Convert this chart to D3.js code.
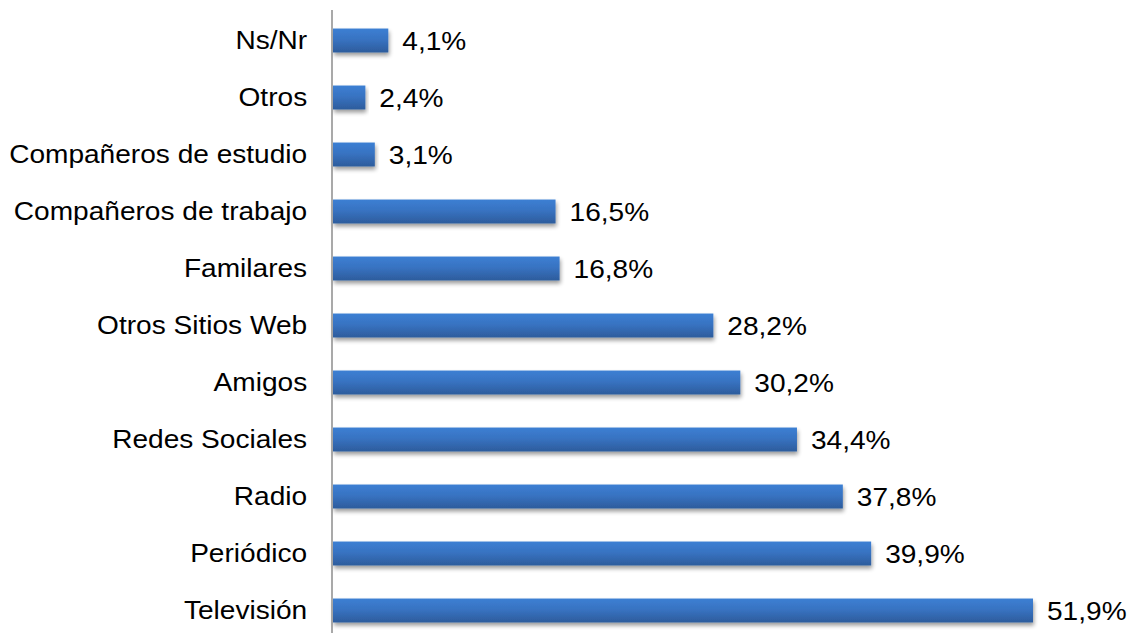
<!DOCTYPE html>
<html>
<head>
<meta charset="utf-8">
<script src="https://cdn.jsdelivr.net/npm/d3@7"></script>
<style>
  html, body { margin: 0; padding: 0; background: #ffffff; }
  svg { display: block; }
</style>
</head>
<body>
<svg id="chart" width="1130" height="633"></svg>
<script>
// Categories from top to bottom and their share (%)
const categories = [
  "Ns/Nr", "Otros", "Compañeros de estudio", "Compañeros de trabajo",
  "Familares", "Otros Sitios Web", "Amigos", "Redes Sociales",
  "Radio", "Periódico", "Televisión"
];
const values = [4.1, 2.4, 3.1, 16.5, 16.8, 28.2, 30.2, 34.4, 37.8, 39.9, 51.9];
const valueLabels = ["4,1%", "2,4%", "3,1%", "16,5%", "16,8%", "28,2%", "30,2%", "34,4%", "37,8%", "39,9%", "51,9%"];

const data = categories.map((c, i) => ({ cat: c, val: values[i], label: valueLabels[i] }));

const FONT = "Liberation Sans, Arial, sans-serif";
const FONT_SIZE = 26;
const STRETCH = 1.08; // slightly wide lettering

const svg = d3.select("#chart");
const x0 = 333;
const x = d3.scaleLinear().domain([0, 51.9]).range([x0, 1033]);
const y = d3.scaleBand().domain(categories).range([12, 639]).paddingInner(0.58).paddingOuter(0.29);

const defs = svg.append("defs");
const grad = defs.append("linearGradient")
  .attr("id", "barGrad").attr("x1", 0).attr("y1", 0).attr("x2", 0).attr("y2", 1);
grad.append("stop").attr("offset", "0%").attr("stop-color", "#3c7fd3");
grad.append("stop").attr("offset", "45%").attr("stop-color", "#3873c2");
grad.append("stop").attr("offset", "100%").attr("stop-color", "#2d5c9c");

const shadow = defs.append("filter").attr("id", "barShadow")
  .attr("x", "-5%").attr("y", "-30%").attr("width", "115%").attr("height", "180%");
shadow.append("feGaussianBlur").attr("in", "SourceAlpha").attr("stdDeviation", 2.2).attr("result", "blur");
shadow.append("feOffset").attr("in", "blur").attr("dx", 1).attr("dy", 3).attr("result", "off");
shadow.append("feComponentTransfer").attr("in", "off").attr("result", "shade")
  .append("feFuncA").attr("type", "linear").attr("slope", 0.4);
const merge = shadow.append("feMerge");
merge.append("feMergeNode").attr("in", "shade");
merge.append("feMergeNode").attr("in", "SourceGraphic");

// Bars
svg.append("g").selectAll("rect").data(data).join("rect")
  .attr("x", x(0))
  .attr("y", d => y(d.cat))
  .attr("width", d => x(d.val) - x(0))
  .attr("height", y.bandwidth())
  .attr("fill", "url(#barGrad)")
  .attr("filter", "url(#barShadow)");

// Category axis
const axis = svg.append("g").attr("transform", `translate(${x0 - 1},0)`)
  .call(d3.axisLeft(y).tickSize(0).tickPadding(23));
axis.select(".domain").attr("stroke", "#8c8c8c").attr("stroke-width", 1.5)
  .attr("d", "M0,10V633");
axis.selectAll(".tick text")
  .attr("font-family", FONT)
  .attr("font-size", FONT_SIZE)
  .attr("fill", "#000")
  .attr("transform", `scale(${STRETCH},1)`);

// Value labels
svg.append("g").selectAll("text").data(data).join("text")
  .attr("transform", d => `translate(${x(d.val) + 14},${y(d.cat) + y.bandwidth() / 2}) scale(${STRETCH},1)`)
  .attr("dy", "0.36em")
  .attr("font-family", FONT)
  .attr("font-size", FONT_SIZE)
  .attr("fill", "#000")
  .text(d => d.label);
</script>
</body>
</html>
